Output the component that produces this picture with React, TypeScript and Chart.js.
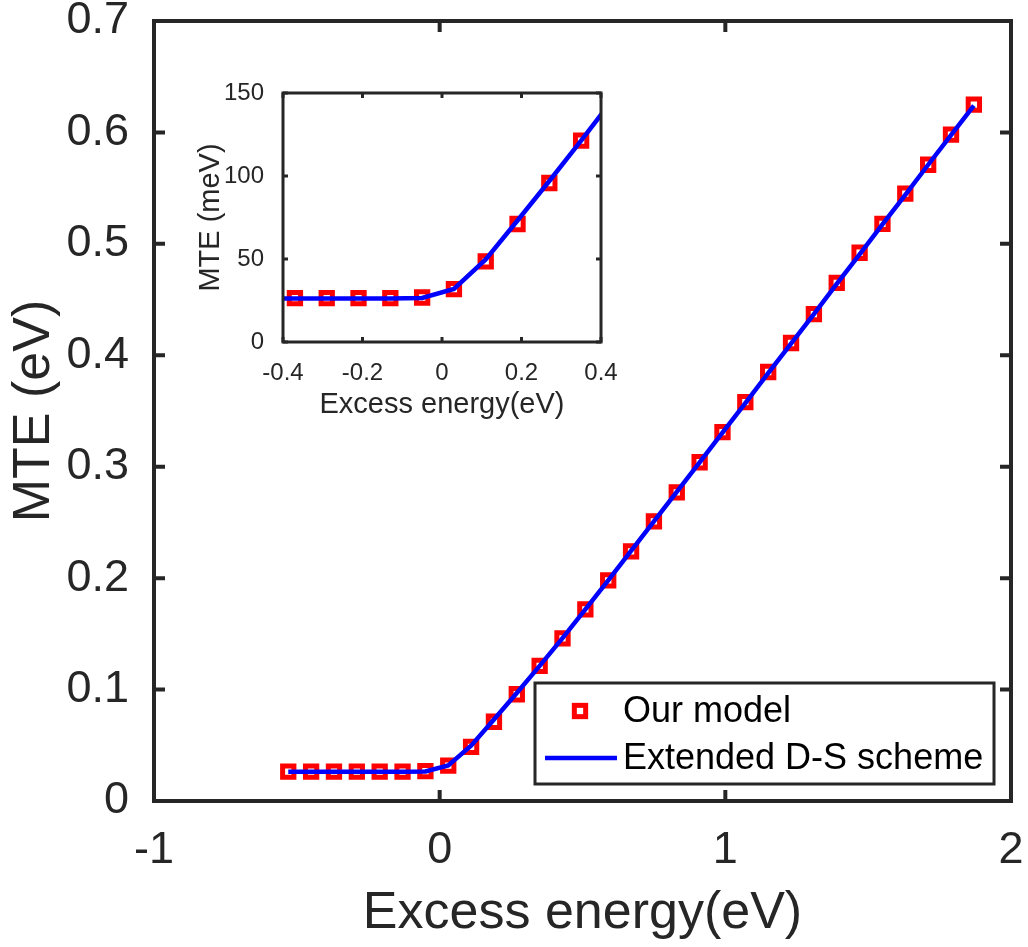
import { useEffect, useRef } from 'react';
import { Chart, registerables } from 'chart.js';

Chart.register(...registerables);

const FONT = "'Liberation Sans', Arial, Helvetica, sans-serif";
const AXIS_COLOR = '#262626';
const MARKER_COLOR = '#FF0000';
const LINE_COLOR = '#0000FF';

// Excess energy (eV) of each computed point
const energyEV = [
  -0.53, -0.45, -0.37, -0.29, -0.21, -0.13, -0.05, 0.03, 0.11, 0.19, 0.27,
  0.35, 0.43, 0.51, 0.59, 0.67, 0.75, 0.83, 0.91, 0.99, 1.07, 1.15, 1.23,
  1.31, 1.39, 1.47, 1.55, 1.63, 1.71, 1.79, 1.87,
];

// MTE (eV) from our model
const modelMTE = [
  0.0264, 0.0264, 0.0264, 0.0264, 0.0264, 0.0264, 0.0268, 0.0318, 0.0486,
  0.0711, 0.0958, 0.1213, 0.146, 0.172, 0.198, 0.224, 0.251, 0.277, 0.304,
  0.331, 0.358, 0.385, 0.411, 0.437, 0.465, 0.492, 0.518, 0.545, 0.571,
  0.598, 0.625,
];

// MTE (eV) from the extended D-S scheme
const schemeMTE = [
  0.0262, 0.0262, 0.0262, 0.0262, 0.0262, 0.0262, 0.0265, 0.032, 0.0497,
  0.0732, 0.097, 0.1213, 0.1462, 0.172, 0.198, 0.2245, 0.251, 0.2775, 0.304,
  0.3305, 0.357, 0.384, 0.4105, 0.437, 0.464, 0.4905, 0.5175, 0.544, 0.571,
  0.5975, 0.624,
];

const mainXTicks = [-1, 0, 1, 2];
const mainYTicks = [0, 0.1, 0.2, 0.3, 0.4, 0.5, 0.6, 0.7];
const insetXTicks = [-0.4, -0.2, 0, 0.2, 0.4];
const insetYTicks = [0, 50, 100, 150];

const LEGEND_LABELS = ['Our model', 'Extended D-S scheme'];

const fmt = (v: number) => String(Math.round(v * 100) / 100);

// Box around the plot area with inward-pointing ticks on all four sides
const axesFrame = {
  id: 'axesFrame',
  beforeDatasetsDraw(chart: any) {
    const { ctx, chartArea: a } = chart;
    ctx.save();
    ctx.fillStyle = '#ffffff';
    ctx.fillRect(a.left, a.top, a.right - a.left, a.bottom - a.top);
    ctx.restore();
  },
  afterDatasetsDraw(chart: any, _args: any, opts: any) {
    const { ctx, chartArea: a, scales } = chart;
    const len = opts.tickLength;
    ctx.save();
    ctx.strokeStyle = AXIS_COLOR;
    ctx.lineWidth = opts.lineWidth;
    ctx.lineCap = 'butt';
    ctx.lineJoin = 'miter';
    ctx.beginPath();
    for (const t of scales.x.ticks) {
      const px = scales.x.getPixelForValue(t.value);
      ctx.moveTo(px, a.bottom);
      ctx.lineTo(px, a.bottom - len);
      ctx.moveTo(px, a.top);
      ctx.lineTo(px, a.top + len);
    }
    for (const t of scales.y.ticks) {
      const py = scales.y.getPixelForValue(t.value);
      ctx.moveTo(a.left, py);
      ctx.lineTo(a.left + len, py);
      ctx.moveTo(a.right, py);
      ctx.lineTo(a.right - len, py);
    }
    ctx.stroke();
    ctx.strokeRect(a.left, a.top, a.right - a.left, a.bottom - a.top);
    ctx.restore();
  },
};

// Boxed legend in the lower right of the main plot
const boxedLegend = {
  id: 'boxedLegend',
  afterDraw(chart: any) {
    const { ctx } = chart;
    const markerSet = chart.data.datasets[0];
    const lineSet = chart.data.datasets[1];
    ctx.save();
    ctx.fillStyle = '#ffffff';
    ctx.fillRect(535, 683, 459, 101);
    ctx.strokeStyle = AXIS_COLOR;
    ctx.lineWidth = 3;
    ctx.strokeRect(535, 683, 459, 101);

    const half = markerSet.pointRadius * Math.SQRT1_2;
    ctx.strokeStyle = markerSet.pointBorderColor;
    ctx.lineWidth = markerSet.pointBorderWidth;
    ctx.strokeRect(580 - half, 711 - half, 2 * half, 2 * half);

    ctx.strokeStyle = lineSet.borderColor;
    ctx.lineWidth = lineSet.borderWidth;
    ctx.beginPath();
    ctx.moveTo(545, 758);
    ctx.lineTo(617, 758);
    ctx.stroke();

    ctx.fillStyle = '#000000';
    ctx.font = `36px ${FONT}`;
    ctx.textBaseline = 'middle';
    ctx.textAlign = 'left';
    ctx.fillText(markerSet.label, 623, 712);
    ctx.fillText(lineSet.label, 623, 759);
    ctx.restore();
  },
};

function buildConfig(opts: {
  xs: number[];
  marks: number[];
  curveXs: number[];
  curve: number[];
  xMin: number;
  xMax: number;
  yMin: number;
  yMax: number;
  xTicks: number[];
  yTicks: number[];
  xTitle: string;
  yTitle: string;
  tickSize: number;
  titleSize: number;
  xTickPad: number;
  yTickPad: number;
  xTitlePad: number;
  yTitlePad: number;
  yWidth: number;
  xHeight: number;
  padding: { top: number; right: number; left: number; bottom: number };
  frameWidth: number;
  tickLength: number;
  withLegend: boolean;
}): any {
  return {
    type: 'scatter',
    data: {
      datasets: [
        {
          label: LEGEND_LABELS[0],
          data: opts.xs.map((x, i) => ({ x, y: opts.marks[i] })),
          showLine: false,
          pointStyle: 'rect',
          pointRadius: 8,
          pointHoverRadius: 8,
          pointBorderWidth: 5,
          pointBorderColor: MARKER_COLOR,
          pointBackgroundColor: 'rgba(255,255,255,0)',
          order: 1,
        },
        {
          label: LEGEND_LABELS[1],
          data: opts.curveXs.map((x, i) => ({ x, y: opts.curve[i] })),
          showLine: true,
          borderColor: LINE_COLOR,
          borderWidth: 4.5,
          pointRadius: 0,
          pointHoverRadius: 0,
          fill: false,
          tension: 0,
          clip: 0,
          order: 0,
        },
      ],
    },
    options: {
      responsive: false,
      maintainAspectRatio: false,
      animation: false,
      devicePixelRatio: 1,
      events: [],
      layout: { padding: opts.padding },
      plugins: {
        legend: { display: false },
        tooltip: { enabled: false },
        axesFrame: { lineWidth: opts.frameWidth, tickLength: opts.tickLength },
      },
      scales: {
        x: {
          type: 'linear',
          min: opts.xMin,
          max: opts.xMax,
          afterBuildTicks: (s: any) => {
            s.ticks = opts.xTicks.map((value) => ({ value }));
          },
          afterFit: (s: any) => {
            s.height = opts.xHeight;
            s.paddingLeft = 0;
            s.paddingRight = 0;
          },
          grid: { display: false },
          border: { display: false },
          ticks: {
            autoSkip: false,
            maxRotation: 0,
            minRotation: 0,
            padding: opts.xTickPad,
            color: AXIS_COLOR,
            font: { family: FONT, size: opts.tickSize },
            callback: (v: number) => fmt(v),
          },
          title: {
            display: true,
            text: opts.xTitle,
            color: AXIS_COLOR,
            font: { family: FONT, size: opts.titleSize },
            padding: { top: 0, bottom: opts.xTitlePad },
          },
        },
        y: {
          type: 'linear',
          min: opts.yMin,
          max: opts.yMax,
          afterBuildTicks: (s: any) => {
            s.ticks = opts.yTicks.map((value) => ({ value }));
          },
          afterFit: (s: any) => {
            s.width = opts.yWidth;
            s.paddingTop = 0;
            s.paddingBottom = 0;
          },
          grid: { display: false },
          border: { display: false },
          ticks: {
            autoSkip: false,
            padding: opts.yTickPad,
            color: AXIS_COLOR,
            font: { family: FONT, size: opts.tickSize },
            callback: (v: number) => fmt(v),
          },
          title: {
            display: true,
            text: opts.yTitle,
            color: AXIS_COLOR,
            font: { family: FONT, size: opts.titleSize },
            padding: { top: opts.yTitlePad, bottom: 0 },
          },
        },
      },
    },
    plugins: opts.withLegend ? [axesFrame, boxedLegend] : [axesFrame],
  };
}

export default function App() {
  const mainRef = useRef<HTMLCanvasElement>(null);
  const insetRef = useRef<HTMLCanvasElement>(null);

  useEffect(() => {
    if (!mainRef.current || !insetRef.current) return;

    const main = new Chart(
      mainRef.current,
      buildConfig({
        xs: energyEV,
        marks: modelMTE,
        curveXs: energyEV,
        curve: schemeMTE,
        xMin: -1,
        xMax: 2,
        yMin: 0,
        yMax: 0.7,
        xTicks: mainXTicks,
        yTicks: mainYTicks,
        xTitle: 'Excess energy(eV)',
        yTitle: 'MTE (eV)',
        tickSize: 45,
        titleSize: 52,
        xTickPad: 15,
        yTickPad: 17,
        xTitlePad: 2,
        yTitlePad: 3,
        yWidth: 154,
        xHeight: 146,
        padding: { top: 21, right: 17, left: 0, bottom: 0 },
        frameWidth: 4,
        tickLength: 11,
        withLegend: true,
      })
    );

    // Zoomed view around the threshold, in meV
    const insetIdx = energyEV
      .map((x, i) => i)
      .filter((i) => energyEV[i] >= -0.4 && energyEV[i] <= 0.4);
    const curveIdx = energyEV
      .map((x, i) => i)
      .filter((i) => energyEV[i] >= -0.45 && energyEV[i] <= 0.5);

    const inset = new Chart(
      insetRef.current,
      buildConfig({
        xs: insetIdx.map((i) => energyEV[i]),
        marks: insetIdx.map((i) => modelMTE[i] * 1000),
        curveXs: curveIdx.map((i) => energyEV[i]),
        curve: curveIdx.map((i) => schemeMTE[i] * 1000),
        xMin: -0.4,
        xMax: 0.4,
        yMin: 0,
        yMax: 150,
        xTicks: insetXTicks,
        yTicks: insetYTicks,
        xTitle: 'Excess energy(eV)',
        yTitle: 'MTE (meV)',
        tickSize: 24,
        titleSize: 29,
        xTickPad: 9,
        yTickPad: 11,
        xTitlePad: 8,
        yTitlePad: 24,
        yWidth: 113,
        xHeight: 88,
        padding: { top: 23, right: 29, left: 0, bottom: 0 },
        frameWidth: 3,
        tickLength: 5,
        withLegend: false,
      })
    );

    return () => {
      main.destroy();
      inset.destroy();
    };
  }, []);

  return (
    <div
      style={{
        position: 'absolute',
        left: 0,
        top: 0,
        width: 1028,
        height: 947,
        background: '#ffffff',
      }}
    >
      <canvas
        ref={mainRef}
        width={1028}
        height={947}
        style={{ position: 'absolute', left: 0, top: 0, width: 1028, height: 947 }}
      />
      <canvas
        ref={insetRef}
        width={460}
        height={360}
        style={{ position: 'absolute', left: 170, top: 70, width: 460, height: 360 }}
      />
    </div>
  );
}
